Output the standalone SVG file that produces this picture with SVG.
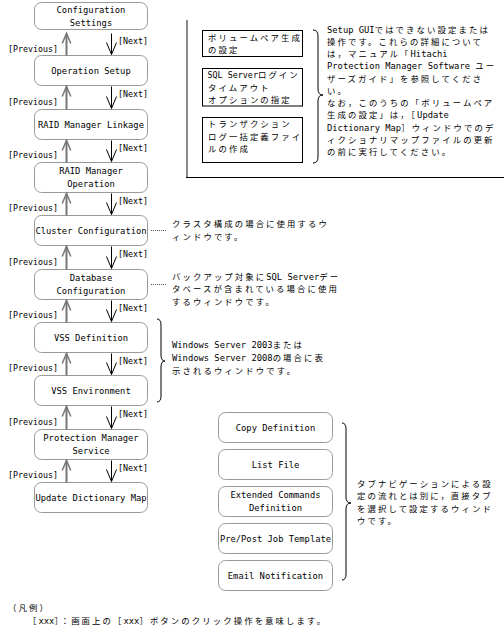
<svg xmlns="http://www.w3.org/2000/svg" width="504" height="639" viewBox="0 0 504 639">
<style>
.bx{fill:#fff;stroke:#999;stroke-width:1}
.rt{fill:#fff;stroke:#000;stroke-width:1}
.lb{font-family:"DejaVu Sans Mono",monospace;font-size:8.8px;text-anchor:middle;fill:#000}
.nv{font-family:"DejaVu Sans Mono",monospace;font-size:8.3px;fill:#000}
.jp{font-family:"Noto Sans CJK JP",sans-serif;font-size:8.4px;letter-spacing:2.1px;fill:#000}
.m{font-family:"DejaVu Sans Mono",monospace;font-size:8.8px;letter-spacing:0}
.up{stroke:#777;stroke-width:2;fill:none;marker-end:url(#hu)}
.dn{stroke:#000;stroke-width:1;fill:none;marker-end:url(#hd)}
.dot{stroke:#555;stroke-width:1;stroke-dasharray:1 1;fill:none}
.br{stroke:#000;stroke-width:1;fill:none}
</style>
<defs>
<marker id="hu" viewBox="-12 -6 13 12" refX="0" refY="0" markerWidth="13" markerHeight="12" markerUnits="userSpaceOnUse" orient="auto" style="overflow:visible"><path d="M-10,-4.3 L0,0 L-10,4.3" fill="none" stroke="#777" stroke-width="1.5"/></marker>
<marker id="hd" viewBox="-13 -6 14 12" refX="0" refY="0" markerWidth="14" markerHeight="12" markerUnits="userSpaceOnUse" orient="auto" style="overflow:visible"><path d="M-12,-5 L0,0 L-12,5" fill="none" stroke="#000" stroke-width="1"/></marker>
</defs>
<rect width="504" height="639" fill="#fff"/>

<g id="n-config"><rect class="bx" x="34.5" y="2.5" width="113" height="27" rx="7"/><text class="lb" x="91" y="13">Configuration<tspan x="91" dy="13">Settings</tspan></text></g>
<g id="n-opsetup"><rect class="bx" x="34.5" y="55.5" width="113" height="30" rx="7"/><text class="lb" x="91" y="73.5">Operation Setup</text></g>
<g id="n-raidlink"><rect class="bx" x="34.5" y="109.5" width="113" height="30" rx="7"/><text class="lb" x="91" y="127.5">RAID Manager Linkage</text></g>
<g id="n-raidop"><rect class="bx" x="34.5" y="162.5" width="113" height="30" rx="7"/><text class="lb" x="91" y="173.5">RAID Manager<tspan x="91" dy="13">Operation</tspan></text></g>
<g id="n-cluster"><rect class="bx" x="34.5" y="215.5" width="113" height="30" rx="7"/><text class="lb" x="91" y="233.5">Cluster Configuration</text></g>
<g id="n-db"><rect class="bx" x="34.5" y="269.5" width="113" height="30" rx="7"/><text class="lb" x="91" y="280.5">Database<tspan x="91" dy="13">Configuration</tspan></text></g>
<g id="n-vssdef"><rect class="bx" x="34.5" y="322.5" width="113" height="30" rx="7"/><text class="lb" x="91" y="340.5">VSS Definition</text></g>
<g id="n-vssenv"><rect class="bx" x="34.5" y="375.5" width="113" height="30" rx="7"/><text class="lb" x="91" y="393.5">VSS Environment</text></g>
<g id="n-pmsvc"><rect class="bx" x="34.5" y="429.5" width="113" height="30" rx="7"/><text class="lb" x="91" y="440.5">Protection Manager<tspan x="91" dy="13">Service</tspan></text></g>
<g id="n-udm"><rect class="bx" x="34.5" y="482.5" width="113" height="30" rx="7"/><text class="lb" x="91" y="500.5">Update Dictionary Map</text></g>

<g id="n-copydef"><rect class="bx" x="218.5" y="412.5" width="114" height="30" rx="7"/><text class="lb" x="275.5" y="430.5">Copy Definition</text></g>
<g id="n-listfile"><rect class="bx" x="218.5" y="449.5" width="114" height="30" rx="7"/><text class="lb" x="275.5" y="467.5">List File</text></g>
<g id="n-extcmd"><rect class="bx" x="218.5" y="486.5" width="114" height="30" rx="7"/><text class="lb" x="275.5" y="497.5">Extended Commands<tspan x="275.5" dy="13">Definition</tspan></text></g>
<g id="n-prepost"><rect class="bx" x="218.5" y="523.5" width="114" height="30" rx="7"/><text class="lb" x="275.5" y="541.5">Pre/Post Job Template</text></g>
<g id="n-email"><rect class="bx" x="218.5" y="560.5" width="114" height="30" rx="7"/><text class="lb" x="275.5" y="578.5">Email Notification</text></g>

<g id="n-other">
<line x1="187" y1="20" x2="187" y2="177.5" stroke="#888" stroke-width="2"/>
<line x1="186" y1="177.5" x2="504" y2="177.5" stroke="#000" stroke-width="1"/>
<rect class="rt" x="202.5" y="30.5" width="100" height="26"/>
<text class="jp" x="208" y="40.5">ボリュームペア生成<tspan x="208" dy="12.5">の設定</tspan></text>
<rect class="rt" x="202.5" y="68.5" width="100" height="37.5"/>
<text class="jp" x="207.5" y="78"><tspan class="m" style="font-size:8.4px">SQL Server</tspan>ログイン<tspan x="208" dy="12.8">タイムアウト</tspan><tspan x="208" dy="12.3">オプションの指定</tspan></text>
<rect class="rt" x="202.5" y="117.5" width="100" height="45"/>
<text class="jp" x="208" y="127">トランザクション<tspan x="208" dy="12.8">ログ一括定義ファイ</tspan><tspan x="208" dy="12.3">ルの作成</tspan></text>
</g>

<g id="connectors">
<line class="up" x1="66.5" y1="55.5" x2="66.5" y2="33.5"/>
<line class="dn" x1="111.5" y1="33.5" x2="111.5" y2="54.5"/>
<line class="up" x1="66.5" y1="109.5" x2="66.5" y2="86.5"/>
<line class="dn" x1="111.5" y1="86.5" x2="111.5" y2="108.5"/>
<line class="up" x1="66.5" y1="162.5" x2="66.5" y2="140.5"/>
<line class="dn" x1="111.5" y1="140.5" x2="111.5" y2="161.5"/>
<line class="up" x1="66.5" y1="215.5" x2="66.5" y2="193.5"/>
<line class="dn" x1="111.5" y1="193.5" x2="111.5" y2="214.5"/>
<line class="up" x1="66.5" y1="269.5" x2="66.5" y2="246.5"/>
<line class="dn" x1="111.5" y1="246.5" x2="111.5" y2="268.5"/>
<line class="up" x1="66.5" y1="322.5" x2="66.5" y2="300.5"/>
<line class="dn" x1="111.5" y1="300.5" x2="111.5" y2="321.5"/>
<line class="up" x1="66.5" y1="375.5" x2="66.5" y2="353.5"/>
<line class="dn" x1="111.5" y1="353.5" x2="111.5" y2="374.5"/>
<line class="up" x1="66.5" y1="429.5" x2="66.5" y2="406.5"/>
<line class="dn" x1="111.5" y1="406.5" x2="111.5" y2="428.5"/>
<line class="up" x1="66.5" y1="482.5" x2="66.5" y2="460.5"/>
<line class="dn" x1="111.5" y1="460.5" x2="111.5" y2="481.5"/>
<text class="nv" x="8" y="52">[Previous]</text><text class="nv" x="118" y="44">[Next]</text>
<text class="nv" x="8" y="105">[Previous]</text><text class="nv" x="118" y="97">[Next]</text>
<text class="nv" x="8" y="158">[Previous]</text><text class="nv" x="118" y="151">[Next]</text>
<text class="nv" x="8" y="211">[Previous]</text><text class="nv" x="118" y="204">[Next]</text>
<text class="nv" x="8" y="265">[Previous]</text><text class="nv" x="118" y="257">[Next]</text>
<text class="nv" x="8" y="318">[Previous]</text><text class="nv" x="118" y="311">[Next]</text>
<text class="nv" x="8" y="371">[Previous]</text><text class="nv" x="118" y="364">[Next]</text>
<text class="nv" x="8" y="425">[Previous]</text><text class="nv" x="118" y="417">[Next]</text>
<text class="nv" x="8" y="478">[Previous]</text><text class="nv" x="118" y="471">[Next]</text>
<line class="dot" x1="151" y1="230.5" x2="167" y2="230.5"/>
<line class="dot" x1="151" y1="284.5" x2="167" y2="284.5"/>
<path class="br" d="M313,30 Q318,30 318,36 L318,89 Q318,95 323,95 Q318,95 318,101 L318,157 Q318,163 313,163"/>
<path class="br" d="M157,319 Q161,319 161,325 L161,355 Q161,361 165,361 Q161,361 161,367 L161,396 Q161,402 157,402"/>
<path class="br" d="M342,423 Q346,423 346,429 L346,497 Q346,503 351,503 Q346,503 346,509 L346,574 Q346,580 342,580"/>
</g>

<g id="notes">
<text class="jp" x="327" y="32.5"><tspan class="m">Setup GUI</tspan>ではできない設定または<tspan x="327" dy="12.25">操作です。これらの詳細について</tspan><tspan x="327" dy="12.25">は，マニュアル「<tspan class="m">Hitachi</tspan></tspan><tspan x="327" dy="12.25"><tspan class="m">Protection Manager Software </tspan>ユー</tspan><tspan x="327" dy="12.25">ザーズガイド」を参照してくださ</tspan><tspan x="327" dy="12.25">い。</tspan><tspan x="327" dy="12.25">なお，このうちの「ボリュームペア</tspan><tspan x="327" dy="12.25">生成の設定」は，［<tspan class="m">Update</tspan></tspan><tspan x="327" dy="12.25"><tspan class="m">Dictionary Map</tspan>］ウィンドウでのデ</tspan><tspan x="327" dy="12.25">ィクショナリマップファイルの更新</tspan><tspan x="327" dy="12.25">の前に実行してください。</tspan></text>

<text class="jp" x="172" y="227">クラスタ構成の場合に使用するウ<tspan x="172" dy="12.5">ィンドウです。</tspan></text>
<text class="jp" x="172" y="280">バックアップ対象に<tspan class="m">SQL Server</tspan>デー<tspan x="172" dy="12.3">タベースが含まれている場合に使用</tspan><tspan x="172" dy="12.3">するウィンドウです。</tspan></text>
<text class="jp" x="172" y="348"><tspan class="m">Windows Server 2003</tspan>または<tspan x="172" dy="13"><tspan class="m">Windows Server 2008</tspan>の場合に表</tspan><tspan x="172" dy="13">示されるウィンドウです。</tspan></text>

<text class="jp" x="357" y="487">タブナビゲーションによる設<tspan x="357" dy="12.3">定の流れとは別に，直接タブ</tspan><tspan x="357" dy="12.3">を選択して設定するウィンド</tspan><tspan x="357" dy="12.3">ウです。</tspan></text>

<text class="jp" x="8" y="611">（凡例）<tspan x="28" dy="13">［<tspan class="m">xxx</tspan>］：画面上の［<tspan class="m">xxx</tspan>］ボタンのクリック操作を意味します。</tspan></text>
</g>
</svg>
